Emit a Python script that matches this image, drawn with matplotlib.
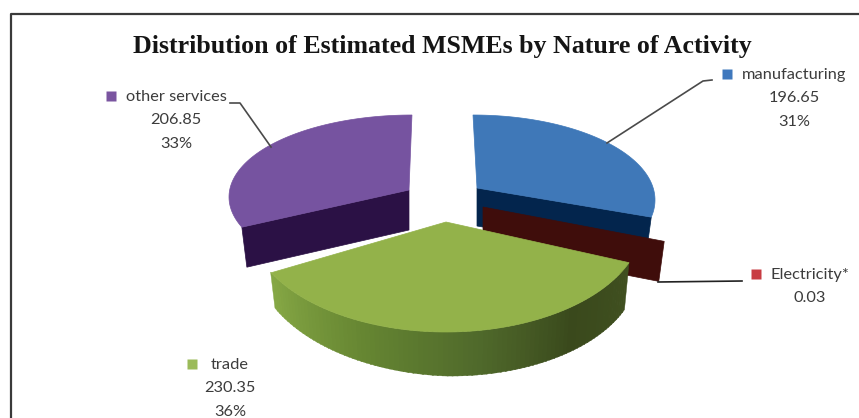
import numpy as np
import matplotlib
matplotlib.use("Agg")
import matplotlib.pyplot as plt

# slice order runs clockwise from 12 o'clock, like the original chart
labels = ["manufacturing", "Electricity*", "trade", "other services"]
values = [196.65, 0.03, 230.35, 206.85]
title = "Distribution of Estimated MSMEs by Nature of Activity"

top_colors = ["#3f78b8", "#3f78b8", "#93b24a", "#7653a0"]
wall_colors = ["#03254d", "#3f0d0b", "#5a7530", "#2b1145"]
key_colors = ["#3f78bd", "#c83c42", "#9bbb59", "#7a55a0"]

# exploded position of each slice, in pixels of the figure
apex_x = [477, 483, 446, 409]
apex_y = [188, 207, 222, 190]
rim_dx = [-4, 0, 0, 3]
rim_dy = [12, 0, 0, 7]
warp = [0.91, 1.0, 1.0, 0.95]
radius_x = [182, 195, 197, 183]
radius_y = [85, 93, 110, 82]
depth = [38, 40, 44, 40]

label_x = [794, 810, 230, 176]
label_y = [75, 275, 365, 97]
key_x = [727, 756, 192, 111]
key_y = [74, 274, 364, 96]

fig = plt.figure(figsize=(8.59, 4.18), dpi=100)
ax = fig.add_axes([0, 0, 1, 1])
ax.set_xlim(0, 859)
ax.set_ylim(418, 0)
ax.axis("off")


def rim(i, a, b, n=80):
    t = np.linspace(a, b, n)
    t = (t + 180) % 360 - 180
    t = np.radians(t * warp[i])
    x = apex_x[i] + rim_dx[i] + radius_x[i] * np.sin(t)
    y = apex_y[i] + rim_dy[i] - radius_y[i] * np.cos(t)
    return x, y


edges = np.concatenate([[0], np.cumsum(values)]) / sum(values) * 360


# cut face of a slice, the side that faces the viewer
def cut_face(i, angle):
    x, y = rim(i, angle, angle, 1)
    low_x = apex_x[i] + (x[0] - apex_x[i]) * 0.97
    xs = [apex_x[i], x[0], low_x, apex_x[i]]
    ys = [apex_y[i], y[0], y[0] + depth[i], apex_y[i] + depth[i]]
    ax.fill(xs, ys, color=wall_colors[i], lw=0.5, zorder=2 + i)


def top_face(i, z):
    a, b = edges[i], edges[i + 1]
    if i == 3:
        # stop just before 12 o'clock so the wrap in rim() stays on one side
        b = b - 0.01
    x, y = rim(i, a, b)
    ax.fill(np.r_[apex_x[i], x], np.r_[apex_y[i], y], color=top_colors[i], lw=0.5, zorder=z)


# manufacturing, then the electricity sliver, purple, then trade on top
cut_face(0, edges[1])
top_face(0, 3)
cut_face(1, edges[1])
cut_face(3, edges[3])
top_face(3, 6)

# trade rim with the dark-to-light shading of the original
shade_at = [edges[2], 140, 170, 205, edges[3]]
shade_r = [0x40, 0x3a, 0x4f, 0x66, 0x86]
shade_g = [0x50, 0x49, 0x69, 0x86, 0xa8]
shade_b = [0x20, 0x1c, 0x2b, 0x32, 0x45]
depth_at = [edges[2], 180, edges[3]]
depth_rim = [47, 44, 36]
steps = np.linspace(edges[2], edges[3], 90)
for a, b in zip(steps[:-1], steps[1:]):
    x, y = rim(2, a, b + 0.4, 3)
    mid = np.linspace(a, b + 0.4, 3)
    low_x = apex_x[2] + (x - apex_x[2]) * 0.975
    low_y = y + np.interp(mid, depth_at, depth_rim)
    xs = np.r_[x, low_x[::-1]]
    ys = np.r_[y, low_y[::-1]]
    m = (a + b) / 2
    c = (np.interp(m, shade_at, shade_r) / 255,
         np.interp(m, shade_at, shade_g) / 255,
         np.interp(m, shade_at, shade_b) / 255)
    ax.fill(xs, ys, color=c, lw=0.3, zorder=7)
top_face(2, 8)

# leader lines
line_col = "#4a4a4a"
ax.plot([607, 703, 712], [143, 81, 80], color=line_col, lw=1.2, zorder=9)
ax.plot([230, 240, 271], [103, 103, 147], color=line_col, lw=1.2, zorder=9)
ax.plot([658, 742], [282, 281], color="#222222", lw=1.2, zorder=9)

# labels with their colour keys
for i, name in enumerate(labels):
    ax.plot(key_x[i], key_y[i], "s", ms=7.8, mec="none", color=key_colors[i], zorder=10)
    rows = [name, f"{values[i]:.2f}"]
    if values[i] >= 1:
        rows.append(f"{values[i] / sum(values) * 100:.0f}%")
    for j, row in enumerate(rows):
        ax.text(label_x[i], label_y[i] + j * 23.5, row, ha="center", va="center",
                family="Lato", fontsize=11.8, color="#3c3c3c", zorder=10)

ax.text(442, 47, title, ha="center", va="center", family="Liberation Serif",
        fontweight="bold", fontsize=18.6, color="#151515")

# outer frame of the chart
ax.plot([11, 11, 859], [418, 14, 14], color="#3a3a3a", lw=1.6, zorder=1)

fig.savefig("out.png", dpi=100)
